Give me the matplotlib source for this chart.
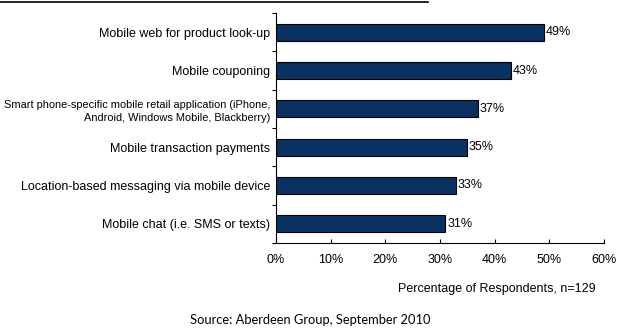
import matplotlib
matplotlib.use("Agg")
import matplotlib.pyplot as plt
from matplotlib.lines import Line2D

categories = [
    "Mobile web for product look-up",
    "Mobile couponing",
    "Smart phone-specific mobile retail application (iPhone,\nAndroid, Windows Mobile, Blackberry)",
    "Mobile transaction payments",
    "Location-based messaging via mobile device",
    "Mobile chat (i.e. SMS or texts)",
]
values = [49, 43, 37, 35, 33, 31]
xticks = [0, 10, 20, 30, 40, 50, 60]
xtick_labels = ["0%", "10%", "20%", "30%", "40%", "50%", "60%"]

plt.rcParams['font.family'] = ['Liberation Sans', 'DejaVu Sans']
FS = 9

fig = plt.figure(figsize=(6.2, 3.29), dpi=100)
ax = fig.add_axes([276/620, 1-243/329, (604-276)/620, (243-13)/329])

n = len(categories)
ypos = list(range(n))
ax.barh(ypos, values, height=0.45, color="#0b3162", edgecolor="black", linewidth=0.8)
ax.set_ylim(n-0.5, -0.5)
ax.set_xlim(0, 60)

for y, v in zip(ypos, values):
    ax.text(v + 0.3, y, f"{v}%", va="center", ha="left", fontsize=FS)

ax.set_yticks(ypos)
labels = ax.set_yticklabels(categories, fontsize=FS, ha="right", multialignment="right")
for lab in labels:
    if "\n" in lab.get_text():
        lab.set_fontsize(7.9)
        lab.set_linespacing(1.35)
ax.tick_params(axis="y", which="major", length=0, pad=4)
ax.set_yticks([i - 0.5 for i in range(n + 1)], minor=True)
ax.tick_params(axis="y", which="minor", length=3, direction="out", width=0.8)

ax.set_xticks(xticks)
ax.set_xticklabels(xtick_labels, fontsize=FS)
ax.tick_params(axis="x", length=3, direction="in", width=0.8, pad=8)

for s in ["top", "right"]:
    ax.spines[s].set_visible(False)
for s in ["left", "bottom"]:
    ax.spines[s].set_linewidth(0.8)

fig.text(596/620, 1-289/329, "Percentage of Respondents, n=129", ha="right", va="center", fontsize=FS)
fig.text(310/620, 1-320/329, "Source: Aberdeen Group, September 2010", ha="center", va="center",
         fontsize=9.3, family=["Lato", "DejaVu Sans"])

fig.add_artist(Line2D([0, 428/620], [1-2/329, 1-2/329], color="black", linewidth=1.2, transform=fig.transFigure))

fig.savefig("out.png", dpi=100)
